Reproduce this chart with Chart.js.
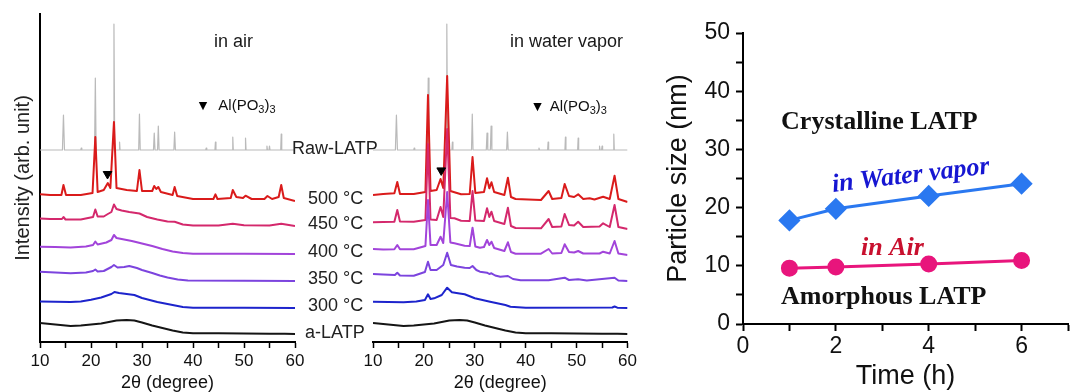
<!DOCTYPE html>
<html>
<head>
<meta charset="utf-8">
<script src="https://cdn.jsdelivr.net/npm/chart.js@4.4.1/dist/chart.umd.min.js"></script>
<style>
html,body{margin:0;padding:0;background:#fff;width:1072px;height:392px;overflow:hidden;}
canvas{position:absolute;top:0;}
</style>
</head>
<body>
<canvas id="air" width="380" height="392" style="left:0px"></canvas>
<canvas id="vapor" width="300" height="392" style="left:340px"></canvas>
<canvas id="size" width="420" height="392" style="left:660px"></canvas>
<script>
// ================= DATA =================
// XRD traces: [2theta (deg), intensity above the trace's own tail (arb. unit)]
const sampleLabels = ['Raw-LATP', '500 °C', '450 °C', '400 °C', '350 °C', '300 °C', 'a-LATP'];
const xTickValues = [10, 20, 30, 40, 50, 60];

const rawLATP = [[10,0],[14.4,0],[14.6,35],[14.8,0],[18.0,0],[18.1,2],[18.2,0],[20.7,0],[20.85,72],[21.0,0],
  [24.35,0],[24.5,126],[24.65,0],[25.5,0],[25.6,8],[25.7,0],[29.35,0],[29.5,36],[29.65,0],[32.25,0],[32.4,17],
  [32.55,0],[33.05,0],[33.2,24],[33.35,0],[36.25,0],[36.4,18],[36.55,0],[42.5,0],[42.6,2],[42.7,0],[44.3,0],
  [44.4,8],[44.5,0],[47.7,0],[47.8,13],[47.9,0],[50.2,0],[50.3,12],[50.4,0],[54.4,0],[54.5,4],[54.6,0],[54.9,0],
  [55.0,4],[55.1,0],[57.2,0],[57.3,16],[57.4,0],[60,0]];

const aLATP = [[10,12],[12,11],[14,10],[16,9],[18,9.5],[20,10.5],[22,11.5],[24,13.5],[25,14.5],[27,15],[28.5,14.5],
  [30,12.5],[32,9.5],[34,7],[36,4.5],[38,2.5],[40,1.7],[45,1.7],[50,1.5],[55,1.3],[58,1.2],[60,1]];

// in air
const air500 = [[10,6.7],[12,6],[14.2,6],[14.6,16],[15.1,6],[18,6],[20.3,8],[20.85,64],[21.3,9],[22.5,11],[23.3,18],
  [23.8,13],[24.5,79],[25.0,13],[27,11],[29,10],[29.5,31],[30,10],[32,10],[32.4,15],[32.8,12],[33.2,14],[33.7,9],
  [36,6],[36.4,14],[36.9,5],[40,2],[44,2],[44.4,6.7],[44.8,2],[47.4,3],[47.8,11],[48.5,4],[49.8,3],[50.3,5.3],
  [51.5,2],[54,2],[54.6,5],[55.5,2],[56.8,4],[57.3,16],[57.8,3],[60,0]];
const air450 = [[10,7.5],[12,7],[14.3,7],[14.6,9],[15,6.5],[18,6.5],[20.4,9],[20.85,16.5],[21.3,9.5],[22.5,9.5],
  [23.3,12],[24.0,14],[24.5,21.5],[25,17],[26,15.5],[27.5,14],[29.5,12.5],[31,9],[33,6.5],[35,4.5],[36.4,4.3],
  [38,1.5],[40,0.5],[45,0.5],[47.8,2.3],[50,0.8],[55,0.5],[57.3,2.3],[60,0]];
const air400 = [[10,7.3],[13,7],[16,6.5],[19,7.5],[20.4,9],[20.85,12.5],[21.3,9.5],[23,11.5],[24.0,14],[24.5,19],
  [25,16],[26.5,14.5],[28,13],[30,10.5],[32,8],[34,5],[36,2.5],[38,1],[40,0.3],[50,0.3],[60,0]];
const air350 = [[10,9.3],[13,8.5],[16,7.7],[19,8.5],[20.4,10],[20.85,11.5],[21.3,9.5],[22.5,10],[24,14],[24.5,16],
  [25.2,13.5],[26.5,14],[27.5,15],[29,13],[30,11],[32,8],[33.5,5.5],[35,3.5],[37,1.5],[39,0.5],[50,0.3],[60,0]];
const air300 = [[10,6.5],[13,6.2],[16,6],[18,6.5],[20,8.3],[22,10.5],[24,14],[24.6,16],[25.5,15],[27,14],[28.5,13],
  [30,10],[31.5,8],[33,6],[35,4],[36.5,2.5],[38,1],[40,0.3],[50,0.3],[60,0]];

// in water vapor
const vap500 = [[10,7],[12,8],[14.2,8.7],[14.77,20],[15.3,8],[18,8],[20.3,10],[20.8,107],[21.3,11],[22.5,12],
  [23.27,23],[23.8,14],[24.57,126],[25.2,11],[26,9.7],[27.3,7.7],[29,8],[29.55,45],[30.1,9],[31.8,10],[32.4,23.7],
  [32.85,13.7],[33.27,19.7],[33.8,10],[35.8,7],[36.5,24.3],[37.1,5],[38,3],[43,2],[44.5,11],[45.2,3],[47,4],
  [47.65,18],[48.5,6],[49.5,5],[50.3,7.7],[51.3,3],[52.55,3.7],[53.5,2.5],[55.2,5.3],[56.5,3],[57.45,26.3],
  [58.2,3],[60,0]];
const vap450 = [[10,6.7],[12,7],[14.2,7.3],[14.77,19],[15.3,7.5],[18,7.3],[20.3,9],[20.8,85],[21.3,9.5],[22.5,9],
  [23.27,22],[23.8,12],[24.57,100],[25.2,11],[26,10.7],[27.3,8.3],[29,8],[29.55,38],[30.1,8.5],[31.8,8],[32.4,20.7],
  [32.85,12],[33.27,17.3],[33.8,8],[35.8,5],[36.5,21.3],[37.1,3],[38,1],[43,0.7],[44.5,10],[45.2,2],[47,2.5],
  [47.65,15],[48.5,4],[49.5,3.5],[50.3,7.3],[51.3,2],[54.5,2.5],[55.2,5.7],[56.5,2],[57.45,24],[58.2,2],[60,0]];
const vap400 = [[10,6],[12,5.5],[14.2,5.7],[14.77,10],[15.3,5.7],[18,5.7],[20.3,9],[20.8,55],[21.3,10],[22.5,10],
  [23.27,18.3],[23.8,12],[24.57,63],[25.2,12.5],[26,11.7],[28,9.3],[29,9],[29.55,27.3],[30.1,8.5],[31,7.3],[31.8,8],
  [32.4,15],[32.85,10],[33.27,13.3],[33.8,7],[35.8,4],[36.5,12.7],[37.1,3],[38,1.3],[43,1.3],[44.5,6],[45.2,1.5],
  [47,2],[47.65,10.7],[48.5,3],[49.5,2.5],[50.3,4],[51.3,1.5],[54.5,1.5],[55.2,3.3],[56.5,1.5],[57.45,14],
  [58.2,1.5],[60,0]];
const vap350 = [[10,7],[12,6.5],[14.3,6],[14.77,8.3],[15.3,5.5],[18,5.3],[20.2,9],[20.8,19.3],[21.3,11],[22.5,11],
  [23.8,16],[24.57,28.3],[25.3,16],[26.5,14.5],[28,13.3],[29,13],[29.55,15],[30.3,11],[31,9.3],[32.4,8.3],[32.85,7],
  [33.27,7.7],[34,5.5],[35,4.3],[36.5,5],[37.5,2],[39,0.7],[44.5,0.7],[47.65,3.3],[48.5,1],[50.3,1.7],[52,0.5],
  [57.45,3.3],[58.2,0.5],[60,0]];
const vap300 = [[10,6.3],[13,6],[16,5.7],[18.5,6.5],[20.2,8],[20.8,13.7],[21.3,9],[22,9.7],[23.5,13],[24.57,20.3],
  [25.5,15.7],[27,14.5],[28,13.7],[30,9.7],[31.5,8],[33,6.3],[36,3],[37,1.3],[40,0.3],[57,0.5],[57.45,1.5],
  [58,0.3],[60,0]];

// vertical stacking shift of each trace (arb. unit), same order as sampleLabels
const airOffsets = [192, 141, 116, 88, 61, 34, 7];
const vapOffsets = [192, 140, 113, 87, 61, 34, 7];

// Al(PO3)3 marker: [2theta, intensity above 500 °C trace]
const alpo3Air = [23.24, 27];
const alpo3Vap = [23.4, 31.6];

// particle size panel
const times = [1, 2, 4, 6];
const sizeVapor = [17.8, 19.8, 22.0, 24.1];
const sizeAir = [9.6, 9.8, 10.3, 10.9];

// ================= STYLE =================
const sampleColors = ['#bababa', '#da1b1b', '#d4286c', '#a244da', '#7c44de', '#1d24cc', '#151515'];
const SANS = "'Liberation Sans', Arial, sans-serif";
const SERIF = "'Liberation Serif', 'Times New Roman', serif";
Chart.defaults.font.family = SANS;
Chart.defaults.color = '#111';

function notesPlugin(items) {
  return {
    id: 'notes',
    afterDraw(chart) {
      const ctx = chart.ctx, xs = chart.scales.x, ys = chart.scales.y;
      items.forEach(it => {
        const px = xs.getPixelForValue(it.at[0]), py = ys.getPixelForValue(it.at[1]);
        ctx.save();
        ctx.translate(px, py);
        if (it.rotate) ctx.rotate(it.rotate * Math.PI / 180);
        ctx.fillStyle = it.color || '#1a1a1a';
        ctx.textBaseline = it.baseline || 'alphabetic';
        ctx.textAlign = 'left';
        const parts = it.parts || [{ t: it.text }];
        let w = 0;
        parts.forEach(p => { ctx.font = p.font || it.font; w += ctx.measureText(p.t).width; });
        let cx = it.align === 'center' ? -w / 2 : (it.align === 'right' ? -w : 0);
        parts.forEach(p => {
          ctx.font = p.font || it.font;
          ctx.fillText(p.t, cx, p.dy || 0);
          cx += ctx.measureText(p.t).width;
        });
        ctx.restore();
      });
    }
  };
}

function spectraDatasets(series, offsets, marker) {
  const ds = [{
    type: 'scatter', label: 'Al(PO3)3',
    data: [{ x: marker[0], y: marker[1] + offsets[1] }],
    pointStyle: 'triangle', pointRotation: 180, pointRadius: 5,
    pointBackgroundColor: '#000', pointBorderColor: '#000', showLine: false
  }];
  for (let i = series.length - 1; i >= 0; i--) {
    ds.push({
      type: 'line', label: sampleLabels[i],
      data: series[i].map(([t, v]) => ({ x: t, y: v + offsets[i] })),
      borderColor: sampleColors[i], borderWidth: i === 0 ? 1.2 : 2,
      pointRadius: 0, tension: 0, fill: false, borderJoinStyle: 'round'
    });
  }
  return ds;
}

function xrdScales(showY) {
  return {
    x: {
      type: 'linear', min: 10, max: 60, position: 'bottom',
      ticks: { stepSize: 5, autoSkip: false, maxRotation: 0, padding: 3, color: '#111',
        font: { size: 17 }, callback: v => xTickValues.includes(v) ? String(v) : '' },
      grid: { display: true, drawOnChartArea: false, drawTicks: true, tickLength: 6, tickColor: '#000', tickWidth: 1.5 },
      border: { display: true, color: '#000', width: 2 },
      title: { display: true, text: '2θ (degree)', color: '#111', font: { size: 18 }, padding: { top: 0, bottom: -2 } },
      afterFit: s => { s.height = 50; }
    },
    y: showY ? {
      type: 'linear', min: 0, max: 328,
      ticks: { display: false },
      grid: { display: true, drawOnChartArea: false, drawTicks: false },
      border: { display: true, color: '#000', width: 2 },
      title: { display: true, text: 'Intensity (arb. unit)', color: '#222', font: { size: 20 }, padding: { top: 11, bottom: 0 } },
      afterFit: s => { s.width = 40; }
    } : { type: 'linear', min: 0, max: 328, display: false }
  };
}

function alpo3Legend(triX, textX, yv) {
  return [
    { text: '▼', at: [triX, yv + 4], font: "11px 'DejaVu Sans'", align: 'center', baseline: 'middle', color: '#000' },
    { at: [textX, yv], font: '15px ' + SANS, color: '#111',
      parts: [{ t: 'Al(PO' }, { t: '3', font: '11px ' + SANS, dy: 3 }, { t: ')' }, { t: '3', font: '11px ' + SANS, dy: 3 }] }
  ];
}

// ---------- panel: in air ----------
const airNotes = [
  { text: 'in air', at: [47.94, 294.7], font: '18px ' + SANS, align: 'center' },
  ...alpo3Legend(41.96, 44.96, 232),
  ...sampleLabels.map((lab, i) => ({
    text: lab, font: '18px ' + SANS, baseline: 'middle', color: '#222',
    at: [i === 0 ? 59.41 : (i === 6 ? 61.96 : 62.55), airOffsets[i] + (i === 0 ? 1 : 2)]
  }))
];
new Chart(document.getElementById('air'), {
  type: 'line',
  data: { datasets: spectraDatasets([rawLATP, air500, air450, air400, air350, air300, aLATP], airOffsets, alpo3Air) },
  options: {
    responsive: false, animation: false, devicePixelRatio: 1,
    layout: { padding: { left: 0, right: 85, top: 14, bottom: 0 } },
    plugins: { legend: { display: false }, tooltip: { enabled: false } },
    scales: xrdScales(true)
  },
  plugins: [notesPlugin(airNotes)]
});

// ---------- panel: in water vapor ----------
const vapNotes = [
  { text: 'in water vapor', at: [48.0, 295.3], font: '18px ' + SANS, align: 'center' },
  ...alpo3Legend(42.29, 44.71, 231)
];
new Chart(document.getElementById('vapor'), {
  type: 'line',
  data: { datasets: spectraDatasets([rawLATP, vap500, vap450, vap400, vap350, vap300, aLATP], vapOffsets, alpo3Vap) },
  options: {
    responsive: false, animation: false, devicePixelRatio: 1,
    layout: { padding: { left: 33, right: 12, top: 14, bottom: 0 } },
    plugins: { legend: { display: false }, tooltip: { enabled: false } },
    scales: xrdScales(false)
  },
  plugins: [notesPlugin(vapNotes)]
});

// ---------- panel: particle size ----------
const sizeNotes = [
  { text: 'Crystalline LATP', at: [0.82, 33.45], font: 'bold 26px ' + SERIF, color: '#111' },
  { text: 'Amorphous LATP', at: [0.82, 3.44], font: 'bold 26px ' + SERIF, color: '#111' },
  { text: 'in Water vapor', at: [3.63, 24.3], font: 'italic bold 26px ' + SERIF, color: '#1616d2', align: 'center', rotate: -6.8 },
  { text: 'in Air', at: [3.22, 11.86], font: 'italic bold 26px ' + SERIF, color: '#c8102e', align: 'center' }
];
new Chart(document.getElementById('size'), {
  type: 'line',
  data: {
    datasets: [
      { label: 'in Water vapor', data: times.map((t, i) => ({ x: t, y: sizeVapor[i] })),
        borderColor: '#2a78f0', backgroundColor: '#2a78f0', borderWidth: 3,
        pointStyle: 'rectRot', pointRadius: 9, pointBackgroundColor: '#2a78f0', pointBorderColor: '#2a78f0' },
      { label: 'in Air', data: times.map((t, i) => ({ x: t, y: sizeAir[i] })),
        borderColor: '#e8157c', backgroundColor: '#e8157c', borderWidth: 3,
        pointStyle: 'circle', pointRadius: 7, pointBackgroundColor: '#e8157c', pointBorderColor: '#e8157c' }
    ]
  },
  options: {
    responsive: false, animation: false, devicePixelRatio: 1,
    layout: { padding: { left: 0, right: 4.5, top: 33, bottom: 0 } },
    plugins: { legend: { display: false }, tooltip: { enabled: false } },
    scales: {
      x: {
        type: 'linear', min: 0, max: 7,
        ticks: { stepSize: 1, autoSkip: false, maxRotation: 0, padding: 2, color: '#111', font: { size: 23 },
          callback: v => (v % 2 === 0 && v <= 6) ? String(v) : '' },
        grid: { display: true, drawOnChartArea: false, drawTicks: true, tickLength: 7, tickColor: '#000', tickWidth: 2 },
        border: { display: true, color: '#000', width: 2 },
        title: { display: true, text: 'Time (h)', color: '#111', font: { size: 27 }, padding: { top: 0, bottom: -1 } },
        afterFit: s => { s.height = 68; }
      },
      y: {
        type: 'linear', min: 0, max: 50,
        ticks: { stepSize: 5, autoSkip: false, padding: 6, color: '#111', font: { size: 23 },
          callback: v => v % 10 === 0 ? String(v) : '' },
        grid: { display: true, drawOnChartArea: false, drawTicks: true, tickLength: 7, tickColor: '#000', tickWidth: 2 },
        border: { display: true, color: '#000', width: 2 },
        title: { display: true, text: 'Particle size (nm)', color: '#111', font: { size: 27 }, padding: { top: 2, bottom: 0 } },
        afterFit: s => { s.width = 83; }
      }
    }
  },
  plugins: [notesPlugin(sizeNotes)]
});
</script>
</body>
</html>
